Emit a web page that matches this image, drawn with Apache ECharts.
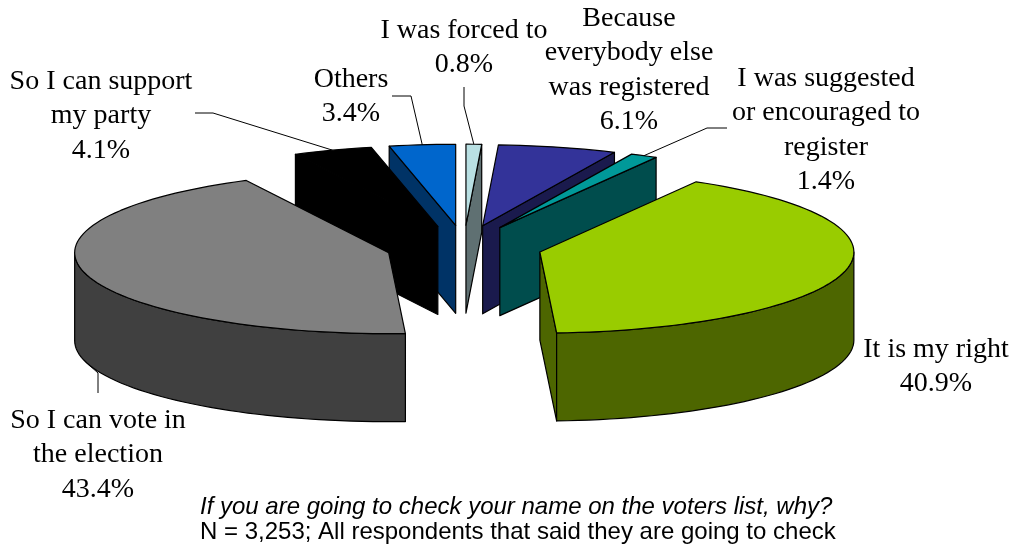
<!DOCTYPE html>
<html>
<head>
<meta charset="utf-8">
<script src="https://cdn.jsdelivr.net/npm/echarts@6/dist/echarts.min.js"></script>
<style>html,body{margin:0;padding:0;background:#fff}#main{width:1012px;height:545px}</style>
</head>
<body>
<div id="main"></div>
<script>
// clockwise from 12 o'clock
var names = ['I was forced to', 'Because\neverybody else\nwas registered', 'I was suggested\nor encouraged to\nregister', 'It is my right', 'So I can vote in\nthe election', 'So I can support\nmy party', 'Others'];
var shares = [0.8, 6.1, 1.4, 40.9, 43.4, 4.1, 3.4];

var topColors = ['#b9e0e3', '#333399', '#009999', '#99cc00', '#808080', '#000000', '#0066cc'];
var wallColors = ['#5f7072', '#1a1a4d', '#004d4d', '#4d6600', '#404040', '#000000', '#003366'];

// label centre [x, y of first line], leader elbows (null = no leader)
var labelPos = [[464, 30], [629, 18], [826, 78], [936, 349], [98, 420], [101, 81], [351, 79]];
var leaders = [[[464, 87], [464, 106]], null, [[727, 128], [707, 128]], null, [[98, 393], [98, 373]], [[195, 113], [213, 113]], [[392, 96], [411, 96]]];

var cx = 464, cy = 247;
var rx = 314, ry = 81, depth = 88;
var explodeX = 78, explodeY = 21.8;

var total = 0;
shares.forEach(function (v) { total += v; });

var slices = [];
var acc = 0;
shares.forEach(function (v, i) {
    var s = acc / total * 360;
    acc += v;
    var e = acc / total * 360;
    slices.push({ idx: i, start: s, end: e, mid: (s + e) / 2 });
});

function rad(a) { return a * Math.PI / 180; }

// back slices get painted first
var order = slices.slice().sort(function (a, b) {
    return Math.cos(rad(b.mid)) - Math.cos(rad(a.mid));
});

function rim(ax, ay, a, drop) {
    return [ax + rx * Math.sin(rad(a)), ay - ry * Math.cos(rad(a)) + (drop || 0)];
}

function arc(ax, ay, s, e, drop) {
    var pts = [];
    var n = Math.max(2, Math.ceil((e - s) / 2));
    for (var i = 0; i <= n; i++) {
        pts.push(rim(ax, ay, s + (e - s) * i / n, drop));
    }
    return pts;
}

function poly(points, fill, z) {
    return {
        type: 'polygon',
        z2: z,
        shape: { points: points },
        style: { fill: fill, stroke: '#000', lineWidth: 1.2, lineJoin: 'round' }
    };
}

function renderSlice(params, api) {
    var sl = order[params.dataIndex];
    var i = sl.idx;
    var value = api.value(0);
    var ax = cx + explodeX * Math.sin(rad(sl.mid));
    var ay = cy - explodeY * Math.cos(rad(sl.mid));
    var kids = [];

    function radialWall(a) {
        var p = rim(ax, ay, a);
        kids.push(poly([[ax, ay], p, [p[0], p[1] + depth], [ax, ay + depth]], wallColors[i], 1));
    }
    // radial faces only show when they turn toward the viewer
    if (sl.start > 180) radialWall(sl.start);
    if (sl.end < 180) radialWall(sl.end);

    var from = Math.max(sl.start, 90), to = Math.min(sl.end, 270);
    if (to > from) {
        var upper = arc(ax, ay, from, to);
        var lower = arc(ax, ay, from, to, depth).reverse();
        kids.push(poly(upper.concat(lower), wallColors[i], 2));
    }
    kids.push(poly([[ax, ay]].concat(arc(ax, ay, sl.start, sl.end)), topColors[i], 3));

    if (leaders[i]) {
        var drop = sl.mid > 90 && sl.mid < 270 ? depth : 0;
        kids.push({
            type: 'polyline',
            z2: 4,
            shape: { points: leaders[i].concat([rim(ax, ay, sl.mid, drop)]) },
            style: { fill: null, stroke: '#000', lineWidth: 1 }
        });
    }
    kids.push({
        type: 'text',
        z2: 5,
        x: labelPos[i][0],
        y: labelPos[i][1] - 17,
        style: {
            text: names[i] + '\n' + value.toFixed(1) + '%',
            fill: '#000',
            font: '28px "Liberation Serif"',
            lineHeight: 34.5,
            align: 'center',
            verticalAlign: 'top'
        }
    });
    return { type: 'group', children: kids };
}

var myChart = echarts.init(document.getElementById('main'));

var option = {
    animation: false,
    backgroundColor: '#fff',
    title: [{
        text: 'If you are going to check your name on the voters list, why?',
        left: 200,
        top: 495,
        padding: 0,
        textStyle: { fontFamily: 'Liberation Sans', fontSize: 24, fontStyle: 'italic', fontWeight: 'normal', color: '#000' }
    }, {
        text: 'N = 3,253; All respondents that said they are going to check',
        left: 200,
        top: 520,
        padding: 0,
        textStyle: { fontFamily: 'Liberation Sans', fontSize: 24, fontWeight: 'normal', color: '#000' }
    }],
    series: [{
        type: 'custom',
        coordinateSystem: 'none',
        renderItem: renderSlice,
        data: order.map(function (sl) {
            return { name: names[sl.idx].replace(/\n/g, ' '), value: [shares[sl.idx]] };
        })
    }]
};

myChart.setOption(option);
</script>
</body>
</html>
